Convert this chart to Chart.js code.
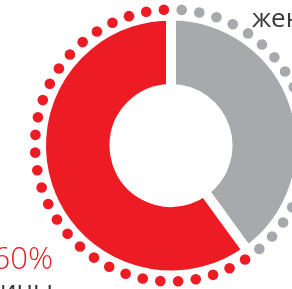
<!DOCTYPE html>
<html lang="ru">
  <head>
    <meta charset="UTF-8" />
    <title>мужчины / женщины</title>
    <script src="https://cdn.jsdelivr.net/npm/chart.js@4/dist/chart.umd.min.js"></script>
    <style>
      html, body { margin: 0; padding: 0; background: #fff; overflow: hidden; }
      #wrap { position: relative; width: 292px; height: 289px; }
    </style>
  </head>
  <body>
    <div id="wrap"><canvas id="pie"></canvas></div>

    <script>
      // данные
      const labels = ["женщины", "мужчины"];
      const values = [40, 60];
      const colors = ["#a7a9ac", "#ed1c24"];

      // кольцо из точек вокруг диаграммы
      const dotRing = {
        id: "dotRing",
        afterDatasetsDraw(chart) {
          const arcs = chart.getDatasetMeta(0).data;
          const ctx = chart.ctx;
          const cx = arcs[0].x, cy = arcs[0].y;
          const r = arcs[0].outerRadius + 6;
          const count = 48;
          ctx.save();
          for (let k = 0; k < count; k++) {
            let a = -Math.PI / 2 + ((4.5 + k * 360 / count) * Math.PI) / 180;
            let arc = arcs.find((el) => {
              let s = el.startAngle, e = el.endAngle, t = a;
              while (t < s) t += Math.PI * 2;
              return t < e;
            }) || arcs[arcs.length - 1];
            ctx.fillStyle = arc.options.backgroundColor;
            ctx.beginPath();
            ctx.arc(cx + r * Math.cos(a), cy + r * Math.sin(a), 5.3, 0, Math.PI * 2);
            ctx.fill();
          }
          ctx.restore();
        },
      };

      // подписи
      const captions = {
        id: "captions",
        afterDraw(chart) {
          const ctx = chart.ctx;
          ctx.save();
          ctx.textBaseline = "alphabetic";
          // женщины
          ctx.fillStyle = "#3a3a3a";
          ctx.font = '400 26px "Open Sans"';
          ctx.textAlign = "left";
          ctx.fillText(values[0] + "%", 252, -6);
          ctx.fillText(labels[0], 252, 27);
          // мужчины
          ctx.fillStyle = colors[1];
          ctx.font = '300 31px "Open Sans"';
          ctx.textAlign = "right";
          ctx.fillText(values[1] + "%", 53, 269);
          ctx.fillStyle = "#3a3a3a";
          ctx.font = '400 26px "Open Sans"';
          ctx.fillText(labels[1], 53, 299);
          ctx.restore();
        },
      };

      new Chart(document.getElementById("pie"), {
        type: "doughnut",
        data: {
          labels: labels,
          datasets: [
            {
              data: values,
              backgroundColor: colors,
              borderColor: "#ffffff",
              borderWidth: 10,
              borderJoinStyle: "miter",
              clip: false,
            },
          ],
        },
        options: {
          responsive: true,
          maintainAspectRatio: false,
          animation: false,
          events: [],
          radius: 130,
          cutout: "43.5%",
          layout: { padding: { left: 50, top: 2, right: 0, bottom: 0 } },
          plugins: {
            legend: { display: false },
            tooltip: { enabled: false },
          },
        },
        plugins: [dotRing, captions],
      });
    </script>
  </body>
</html>
